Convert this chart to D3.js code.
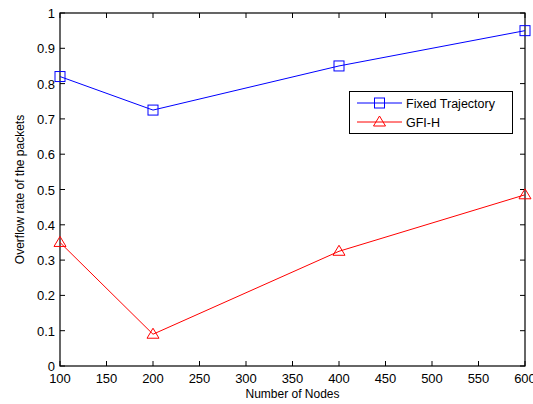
<!DOCTYPE html>
<html>
<head>
<meta charset="utf-8">
<script src="https://d3js.org/d3.v7.min.js"></script>
<style>
  body { margin: 0; background: #fff; }
  text { font-family: "Liberation Sans", Arial, sans-serif; fill: #000; }
</style>
</head>
<body>
<script>
// data
var nodes = [100, 200, 400, 600];
var fixedTrajectory = [0.82, 0.725, 0.85, 0.95];
var gfiH = [0.35, 0.09, 0.325, 0.485];
var xTicks = [100, 150, 200, 250, 300, 350, 400, 450, 500, 550, 600];
var yTicks = [0, 0.1, 0.2, 0.3, 0.4, 0.5, 0.6, 0.7, 0.8, 0.9, 1];
var seriesNames = ["Fixed Trajectory", "GFI-H"];

var W = 533, H = 404;
var plotL = 60, plotR = 525, plotT = 13, plotB = 366;

var svg = d3.select("body").append("svg")
  .attr("width", W).attr("height", H);

var x = d3.scaleLinear().domain([100, 600]).range([plotL, plotR]);
var y = d3.scaleLinear().domain([0, 1]).range([plotB, plotT]);

// ticks (inward, on all sides like matlab)
var tl = 5;
xTicks.forEach(function(t) {
  svg.append("line").attr("x1", x(t)).attr("x2", x(t))
    .attr("y1", plotB).attr("y2", plotB - tl).attr("stroke", "#000");
  svg.append("line").attr("x1", x(t)).attr("x2", x(t))
    .attr("y1", plotT).attr("y2", plotT + tl).attr("stroke", "#000");
  svg.append("text").attr("x", x(t)).attr("y", plotB + 17)
    .attr("text-anchor", "middle").style("font-size", "13px").text(t);
});
yTicks.forEach(function(t) {
  svg.append("line").attr("x1", plotL).attr("x2", plotL + tl)
    .attr("y1", y(t)).attr("y2", y(t)).attr("stroke", "#000");
  svg.append("line").attr("x1", plotR).attr("x2", plotR - tl)
    .attr("y1", y(t)).attr("y2", y(t)).attr("stroke", "#000");
  svg.append("text").attr("x", plotL - 5).attr("y", y(t) + 5)
    .attr("text-anchor", "end").style("font-size", "13px").text(t);
});

// axes box
svg.append("rect").attr("x", plotL).attr("y", plotT)
  .attr("width", plotR - plotL).attr("height", plotB - plotT)
  .attr("fill", "none").attr("stroke", "#000").attr("stroke-width", 1.2);

// axis labels
svg.append("text").attr("x", (plotL + plotR) / 2).attr("y", 398)
  .attr("text-anchor", "middle").style("font-size", "12px").text("Number of Nodes");
svg.append("text")
  .attr("transform", "translate(24," + ((plotT + plotB) / 2) + ") rotate(-90)")
  .attr("text-anchor", "middle").style("font-size", "12px")
  .text("Overflow rate of the packets");

var line = d3.line().x(function(d) { return x(d[0]); }).y(function(d) { return y(d[1]); });

function square(g, cx, cy, color) {
  g.append("rect").attr("x", cx - 5).attr("y", cy - 5).attr("width", 10).attr("height", 10)
    .attr("fill", "none").attr("stroke", color).attr("stroke-width", 1);
}
function triangle(g, cx, cy, color) {
  g.append("path")
    .attr("d", "M" + cx + "," + (cy - 6) + "L" + (cx + 6) + "," + (cy + 4) + "L" + (cx - 6) + "," + (cy + 4) + "Z")
    .attr("fill", "none").attr("stroke", color).attr("stroke-width", 1);
}

var blue = "#0000ff", red = "#ff0000";

var d1 = nodes.map(function(n, i) { return [n, fixedTrajectory[i]]; });
var d2 = nodes.map(function(n, i) { return [n, gfiH[i]]; });

svg.append("path").attr("d", line(d1)).attr("fill", "none").attr("stroke", blue);
svg.append("path").attr("d", line(d2)).attr("fill", "none").attr("stroke", red);
d1.forEach(function(d) { square(svg, x(d[0]), y(d[1]), blue); });
d2.forEach(function(d) { triangle(svg, x(d[0]), y(d[1]), red); });

// legend
var lg = svg.append("g");
lg.append("rect").attr("x", 349.5).attr("y", 91.5).attr("width", 163).attr("height", 42)
  .attr("fill", "#fff").attr("stroke", "#000");
var rows = [103, 122];
[blue, red].forEach(function(c, i) {
  lg.append("line").attr("x1", 357).attr("x2", 402).attr("y1", rows[i]).attr("y2", rows[i])
    .attr("stroke", c);
  if (i === 0) square(lg, 379.5, rows[i], c); else triangle(lg, 379.5, rows[i], c);
  lg.append("text").attr("x", 406).attr("y", rows[i] + 4.5)
    .style("font-size", "12.5px").text(seriesNames[i]);
});
</script>
</body>
</html>
